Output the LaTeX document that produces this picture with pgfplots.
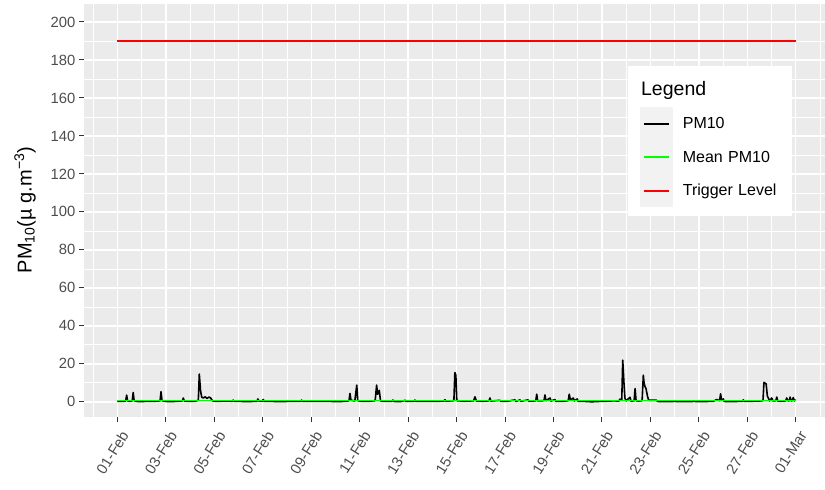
\documentclass[border=0pt]{standalone}
\usepackage{fontspec}
\setmainfont{Liberation Sans}
\usepackage{pgfplots}
\pgfplotsset{compat=1.18}
\definecolor{panelbg}{HTML}{EBEBEB}
\definecolor{keybg}{HTML}{F2F2F2}
\definecolor{gray30}{HTML}{4D4D4D}
\definecolor{gray20}{HTML}{333333}
\definecolor{ggred}{HTML}{FF0000}
\definecolor{gggreen}{HTML}{00FF00}
\begin{document}
\begin{tikzpicture}
\begin{axis}[
  at={(0pt,0pt)}, anchor=south west,
  scale only axis, width=741pt, height=414pt,
  xmin=-1.38, xmax=29.21, ymin=-8, ymax=210,
  axis background/.style={fill=panelbg},
  axis line style={draw=none},
  xtick={0,2,...,28},
  xticklabels={01-Feb,03-Feb,05-Feb,07-Feb,09-Feb,11-Feb,13-Feb,15-Feb,17-Feb,19-Feb,21-Feb,23-Feb,25-Feb,27-Feb,01-Mar},
  minor xtick={-1,1,3,...,29},
  ytick={0,20,...,200},
  minor ytick={10,30,...,190,210},
  grid=both,
  major grid style={white, line width=1.4pt},
  minor grid style={white, line width=0.7pt},
  xtick pos=left, ytick pos=left,
  tick align=outside,
  major tick length=4.5pt, minor tick length=0pt,
  major tick style={gray20, line width=1pt},
  /pgf/number format/assume math mode=true,
  ticklabel style={font=\fontsize{14.8}{16}\selectfont, text=gray30},
  xticklabel style={xshift=8pt, yshift=-10pt, rotate=58, anchor=east, inner sep=1pt},
  yticklabel style={inner sep=2pt, xshift=-2pt},
  every axis y label/.style={at={(axis description cs:0,0.5)}, xshift=-59pt, rotate=90, anchor=center},
  ylabel={\fontsize{20}{22}\selectfont PM\textsubscript{10}(µ g.m\textsuperscript{−3})},
  legend cell align=left,
  legend image code/.code={\fill[keybg] (0pt,-15.83pt) rectangle (31pt,15.83pt); \draw[#1] (3pt,0pt) -- (28pt,0pt);},
  legend style={draw=none, fill=white, inner xsep=12pt, inner ysep=9pt, row sep=0pt, column sep=10pt,
    at={(0.9555,0.8478)}, anchor=north east,
    nodes={anchor=west, inner sep=0pt, text width=97pt, font=\fontsize{16}{18}\selectfont}},
]
\addlegendimage{legend image code/.code={\path[draw=none] (0pt,-16pt) rectangle (31pt,16pt); \node[overlay,draw=none,fill=none,anchor=base west,inner sep=0pt,font=\fontsize{19.5}{20}\selectfont,text=black] at (0pt,-4pt) {Legend};}}
\addlegendentry{}
\addplot[black, line width=1.6pt, line join=round] coordinates {
(0.00,0.3)(0.20,0.2)(0.34,0.4)(0.38,3.5)(0.42,0.5)(0.50,0.3)(0.61,0.5)(0.65,4.9)(0.69,0.6)(0.80,0.2)
(1.00,0.1)(1.25,0.3)(1.50,0.2)(1.76,0.5)(1.80,5.3)(1.84,0.6)(2.00,0.2)(2.25,0.1)(2.50,0.3)(2.68,0.5)
(2.72,2.0)(2.76,0.4)(3.00,0.2)(3.20,0.3)(3.34,0.8)(3.38,14.6)(3.43,6.0)(3.48,2.4)(3.55,2.0)(3.62,2.6)
(3.70,1.8)(3.78,2.5)(3.85,2.0)(3.92,0.5)(4.10,0.2)(4.40,0.4)(4.74,0.3)(4.78,0.9)(4.82,0.3)(5.10,0.2)
(5.40,0.1)(5.76,0.3)(5.80,1.5)(5.84,0.4)(5.98,0.3)(6.02,1.2)(6.06,0.3)(6.40,0.2)(6.80,0.1)(7.20,0.3)
(7.56,0.3)(7.60,0.9)(7.64,0.2)(8.00,0.2)(8.40,0.3)(8.80,0.2)(9.20,0.1)(9.50,0.4)(9.56,0.6)(9.60,4.4)
(9.64,0.8)(9.80,0.5)(9.88,8.8)(9.92,0.6)(10.10,0.2)(10.40,0.3)(10.64,0.6)(10.70,8.8)(10.74,4.0)(10.81,6.0)
(10.86,0.5)(11.00,0.2)(11.33,0.3)(11.37,0.9)(11.41,0.2)(11.70,0.1)(11.87,0.8)(11.91,0.2)(12.24,0.3)(12.28,0.9)
(12.32,0.2)(12.70,0.3)(13.10,0.2)(13.48,0.4)(13.52,1.1)(13.56,0.3)(13.89,0.6)(13.93,15.4)(13.97,14.0)(14.01,0.6)
(14.30,0.3)(14.70,0.5)(14.76,2.6)(14.82,0.4)(15.10,0.3)(15.34,0.5)(15.38,2.0)(15.42,0.4)(15.79,0.8)(15.83,0.2)
(16.10,0.3)(16.41,1.0)(16.45,0.2)(16.62,1.0)(16.66,0.3)(16.95,1.0)(16.99,0.3)(17.27,0.5)(17.31,4.0)(17.35,0.5)
(17.61,0.6)(17.65,3.6)(17.69,0.6)(17.86,2.0)(17.90,0.4)(18.06,1.2)(18.10,0.3)(18.40,0.3)(18.61,0.6)(18.65,4.0)
(18.70,1.0)(18.82,2.0)(18.86,0.5)(18.98,1.5)(19.02,0.3)(19.30,0.2)(19.58,0.0)(19.90,0.2)(20.20,0.3)(20.46,0.5)
(20.70,0.4)(20.75,1.5)(20.82,1.0)(20.86,21.9)(20.91,10.0)(20.95,2.0)(21.00,0.5)(21.16,2.4)(21.20,0.4)(21.33,0.5)
(21.37,7.0)(21.41,0.6)(21.50,0.4)(21.66,0.6)(21.71,14.0)(21.74,10.0)(21.78,8.0)(21.82,7.0)(21.88,3.0)(21.93,0.8)
(22.26,0.8)(22.30,0.2)(22.60,0.1)(23.00,0.2)(23.40,0.1)(23.80,0.2)(24.20,0.1)(24.60,0.3)(24.74,1.2)(24.86,0.6)
(24.90,4.2)(24.94,0.8)(25.01,1.5)(25.05,0.2)(25.40,0.1)(25.80,0.3)(25.84,1.0)(25.88,0.2)(26.20,0.3)(26.50,0.4)
(26.65,0.6)(26.69,10.2)(26.74,9.8)(26.78,9.5)(26.83,3.0)(26.87,2.0)(26.92,0.5)(27.01,2.0)(27.06,0.5)(27.18,0.6)
(27.22,2.5)(27.26,0.4)(27.40,0.3)(27.59,0.5)(27.63,2.0)(27.67,0.6)(27.73,0.5)(27.77,2.5)(27.81,0.5)(27.86,0.6)
(27.90,2.2)(27.94,0.5)(28.00,1.0)
};
\addlegendentry{PM10}
\addplot[gggreen, line width=1.8pt] coordinates {(0,0.7)(28,0.7)};
\addlegendentry{Mean PM10}
\addplot[ggred, line width=1.8pt] coordinates {(0,190)(28,190)};
\addlegendentry{Trigger Level}
\end{axis}
\pgfresetboundingbox
\useasboundingbox (-84pt,-73pt) rectangle (741pt,417pt);
\end{tikzpicture}
\end{document}
